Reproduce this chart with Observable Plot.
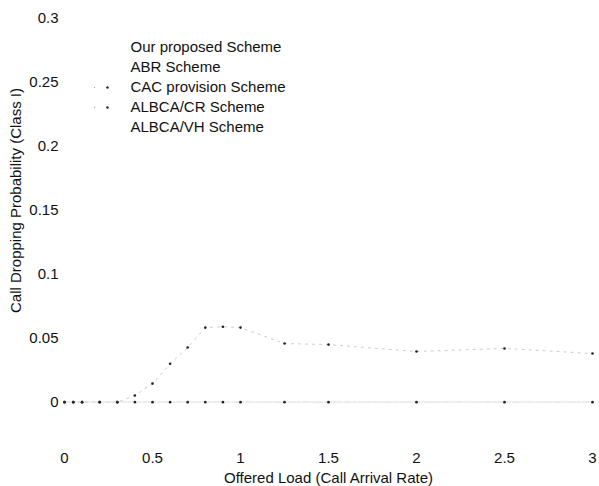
<!DOCTYPE html>
<html><head><meta charset="utf-8">
<script src="https://cdn.jsdelivr.net/npm/d3@7"></script>
<script src="https://cdn.jsdelivr.net/npm/@observablehq/plot@0.6"></script>
<style>
body{margin:0;background:#fff}
#chart{width:599px;height:486px}
</style>
</head><body><div id="chart"></div>
<script>
// Offered load values (x)
const loads = [0, 0.05, 0.1, 0.2, 0.3, 0.4, 0.5, 0.6, 0.7, 0.8, 0.9, 1.0, 1.25, 1.5, 2.0, 2.5, 3.0];
const seriesNames = ["Our proposed Scheme", "ABR Scheme", "CAC provision Scheme", "ALBCA/CR Scheme", "ALBCA/VH Scheme"];
// Call dropping probability (Class I)
const proposed = [0, 0, 0, 0, 0, 0, 0, 0, 0, 0, 0, 0, 0, 0, 0, 0, 0];
const abr      = [0, 0, 0, 0, 0, 0, 0, 0, 0, 0, 0, 0, 0, 0, 0, 0, 0];
const cac      = [0, 0, 0, 0, 0, 0.0052, 0.0145, 0.030, 0.0427, 0.0583, 0.059, 0.0583, 0.0458, 0.045, 0.0396, 0.042, 0.038];
const albcaCR  = [0, 0, 0, 0, 0, 0, 0, 0, 0, 0, 0, 0, 0, 0, 0, 0, 0];
const albcaVH  = [0, 0, 0, 0, 0, 0, 0, 0, 0, 0, 0, 0, 0, 0, 0, 0, 0];
const xTicks = [0, 0.5, 1, 1.5, 2, 2.5, 3];
const yTicks = [0, 0.05, 0.1, 0.15, 0.2, 0.25, 0.3];

const seriesValues = [proposed, abr, cac, albcaCR, albcaVH];
const lineStroke = ["#e6e6e6", "#ebebeb", "#bdbdbd", "#e2e2e2", "#eeeeee"];
const lineDash = [null, "6,4", "2,5", "6,3,2,3", "4,4"];
const rows = [];
seriesNames.forEach((name, s) => loads.forEach((x, i) => rows.push({series: name, s, x, y: seriesValues[s][i]})));

const font = "'Liberation Sans', Arial, Helvetica, sans-serif";
const marks = [];
seriesNames.forEach((name, s) => {
  marks.push(Plot.line(rows.filter(d => d.s === s), {x: "x", y: "y", stroke: lineStroke[s], strokeWidth: 0.8, strokeDasharray: lineDash[s]}));
});
marks.push(Plot.dot(rows.filter(d => d.s === 2 || d.s === 0), {x: "x", y: "y", r: 1.3, fill: "#222", stroke: "none"}));

// legend inside the plot
seriesNames.forEach((name, i) => {
  marks.push(Plot.text([name], {text: d => d, frameAnchor: "top-left", dx: 66, dy: 29 + i * 20, textAnchor: "start", lineAnchor: "middle", fontSize: 15, fill: "#111"}));
});
[2, 3].forEach(i => {
  marks.push(Plot.dot([i], {frameAnchor: "top-left", dx: 43, dy: 29 + i * 20, r: 1.2, fill: "#222", stroke: "none"}));
  marks.push(Plot.dot([i], {frameAnchor: "top-left", dx: 30, dy: 29 + i * 20, r: 0.7, fill: "#aaa", stroke: "none"}));
});

const plot = Plot.plot({
  width: 599,
  height: 486,
  marginLeft: 64,
  marginRight: 7,
  marginTop: 18,
  marginBottom: 46,
  style: {fontFamily: font, fontSize: "15px", color: "#111", background: "#fff"},
  x: {domain: [0, 3]},
  y: {domain: [-0.03, 0.3]},
  marks: [
    Plot.axisY({ticks: yTicks, tickSize: 0, tickPadding: 6, tickFormat: d => String(d), label: null, fontSize: 15}),
    Plot.axisX({ticks: xTicks, tickSize: 0, tickPadding: 12, tickFormat: d => String(d), label: null, fontSize: 15}),
    Plot.text(["Call Dropping Probability (Class I)"], {text: d => d, frameAnchor: "left", textAnchor: "middle", lineAnchor: "middle", rotate: -90, dx: -48, dy: -29, fontSize: 15, fill: "#111"}),
    Plot.text(["Offered Load (Call Arrival Rate)"], {text: d => d, frameAnchor: "bottom", textAnchor: "middle", lineAnchor: "middle", dy: 38, fontSize: 15, fill: "#111"}),
    ...marks
  ]
});
document.getElementById("chart").appendChild(plot);
</script>
</body></html>
